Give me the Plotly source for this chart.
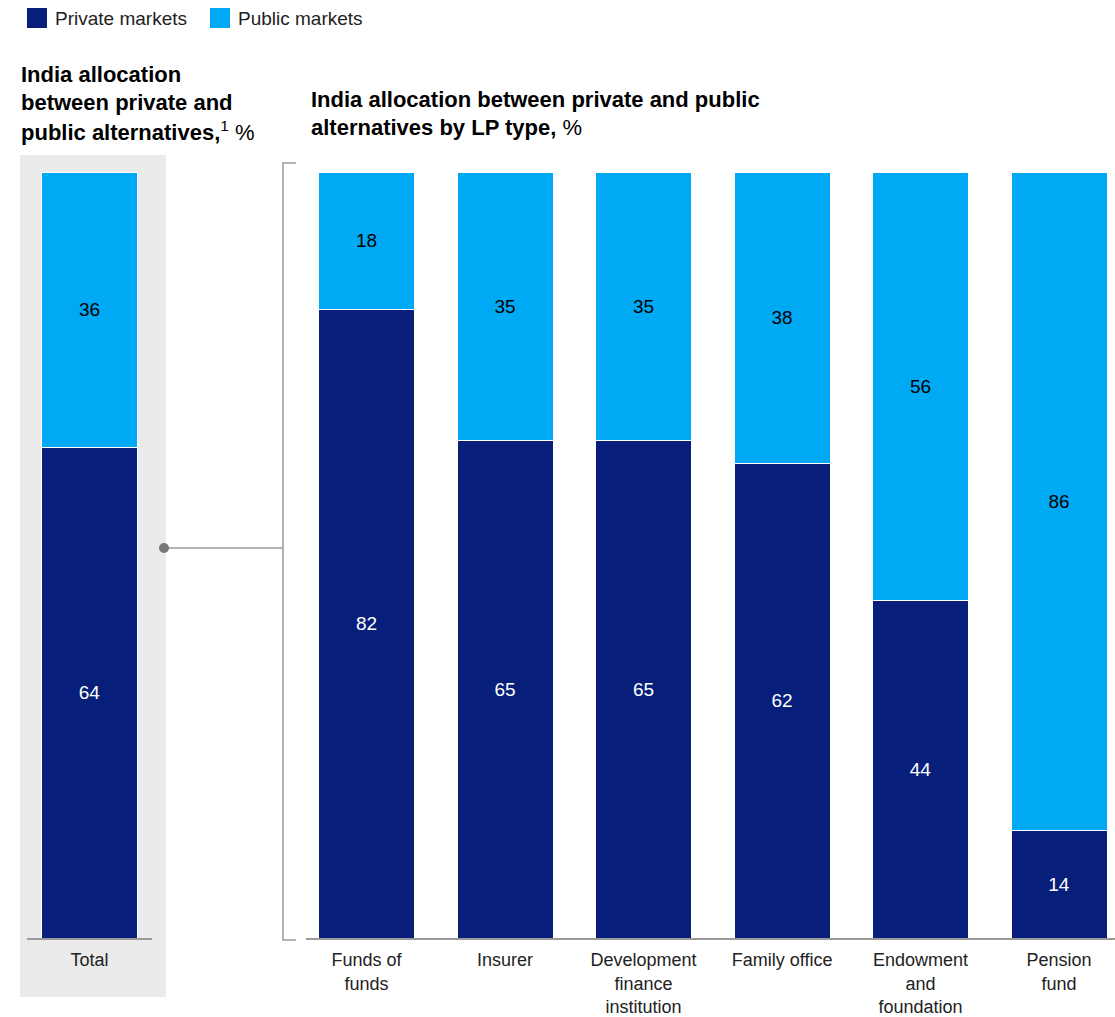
import plotly.graph_objects as go

# Allocation data (%)
total_label = ["Total"]
total_private = [64]
total_public = [36]

lp_types = ["Funds of<br>funds", "Insurer", "Development<br>finance<br>institution",
            "Family office", "Endowment<br>and<br>foundation", "Pension<br>fund"]
lp_private = [82, 65, 65, 62, 44, 14]
lp_public = [18, 35, 35, 38, 56, 86]

NAVY = "#071f7a"
CYAN = "#00a9f4"
GREY_LINE = "#9a9a9a"
FONT = "Liberation Sans, Arial, sans-serif"

W, H = 1115, 1017
MT, MB = 172, 79
PH = H - MT - MB


def px_x(px):
    return px / W


def px_y(py):
    return (H - MB - py) / PH


fig = go.Figure()


def add_stack(x, priv, pub, xaxis, width):
    fig.add_trace(go.Bar(
        x=x, y=priv, name="Private markets", marker=dict(color=NAVY, line=dict(color="white", width=1)),
        text=[str(v) for v in priv], textposition="inside", insidetextanchor="middle",
        textfont=dict(color="white", size=19, family=FONT), textangle=0,
        width=width, xaxis=xaxis, yaxis="y", showlegend=False, constraintext="none"))
    fig.add_trace(go.Bar(
        x=x, y=pub, name="Public markets", marker=dict(color=CYAN, line=dict(color="white", width=1)),
        text=[str(v) for v in pub], textposition="inside", insidetextanchor="middle",
        textfont=dict(color="black", size=19, family=FONT), textangle=0,
        width=width, xaxis=xaxis, yaxis="y", showlegend=False, constraintext="none"))


add_stack(total_label, total_private, total_public, "x", 0.768)
add_stack(lp_types, lp_private, lp_public, "x2", 0.693)

axis_common = dict(showline=True, linecolor=GREY_LINE, linewidth=1.5, showgrid=False,
                   zeroline=False, ticks="", tickfont=dict(size=18, family=FONT, color="#222"),
                   fixedrange=True, type="category", ticklabelstandoff=5, automargin=False)

fig.update_layout(
    width=W, height=H,
    margin=dict(l=0, r=0, t=MT, b=MB),
    paper_bgcolor="white", plot_bgcolor="rgba(0,0,0,0)",
    barmode="stack",
    xaxis=dict(domain=[px_x(27), px_x(152)], range=[-0.5, 0.5], **axis_common),
    xaxis2=dict(domain=[px_x(306), 1.0], range=[-0.437, 5.404], anchor="y", **axis_common),
    yaxis=dict(range=[0, 100], visible=False, fixedrange=True, automargin=False),
    showlegend=False,
    font=dict(family=FONT),
)

shapes = []
# grey panel behind the total bar
shapes.append(dict(type="rect", xref="paper", yref="paper", layer="below",
                   x0=px_x(20), x1=px_x(166), y0=px_y(997), y1=px_y(155),
                   fillcolor="#ebebeb", line=dict(width=0)))
# connector from total to LP breakdown
shapes.append(dict(type="line", xref="paper", yref="paper",
                   x0=px_x(164), x1=px_x(283), y0=px_y(548), y1=px_y(548),
                   line=dict(color=GREY_LINE, width=1.5)))
shapes.append(dict(type="circle", xref="paper", yref="paper",
                   x0=px_x(159), x1=px_x(169), y0=px_y(543), y1=px_y(553),
                   fillcolor="#777777", line=dict(width=0)))
# bracket
shapes.append(dict(type="path", xref="paper", yref="paper",
                   path=f"M {px_x(296)} {px_y(163)} L {px_x(283)} {px_y(163)} "
                        f"L {px_x(283)} {px_y(940)} L {px_x(296)} {px_y(940)}",
                   line=dict(color=GREY_LINE, width=1.5)))
# legend swatches
shapes.append(dict(type="rect", xref="paper", yref="paper",
                   x0=px_x(27), x1=px_x(47), y0=px_y(28), y1=px_y(8),
                   fillcolor=NAVY, line=dict(width=0)))
shapes.append(dict(type="rect", xref="paper", yref="paper",
                   x0=px_x(210), x1=px_x(230), y0=px_y(28), y1=px_y(8),
                   fillcolor=CYAN, line=dict(width=0)))
fig.update_layout(shapes=shapes)

annotations = [
    dict(text="Private markets", x=px_x(53), y=px_y(18), xanchor="left", yanchor="middle",
         font=dict(size=19, color="#222", family=FONT)),
    dict(text="Public markets", x=px_x(236), y=px_y(18), xanchor="left", yanchor="middle",
         font=dict(size=19, color="#222", family=FONT)),
]

# panel titles, one annotation per line to hold the line spacing
left_title = ["<b>India allocation</b>", "<b>between private and</b>",
              "<b>public alternatives,</b><sup>1</sup> %"]
for i, line in enumerate(left_title):
    annotations.append(dict(text=line, x=px_x(19), y=px_y(75 + 28 * i), xanchor="left",
                            yanchor="middle", align="left",
                            font=dict(size=22, color="black", family=FONT)))
right_title = ["<b>India allocation between private and public</b>",
               "<b>alternatives by LP type,</b> %"]
for i, line in enumerate(right_title):
    annotations.append(dict(text=line, x=px_x(309), y=px_y(100 + 28 * i), xanchor="left",
                            yanchor="middle", align="left",
                            font=dict(size=22, color="black", family=FONT)))

for a in annotations:
    a.update(xref="paper", yref="paper", showarrow=False)
fig.update_layout(annotations=annotations)

fig.write_html("out.html")
